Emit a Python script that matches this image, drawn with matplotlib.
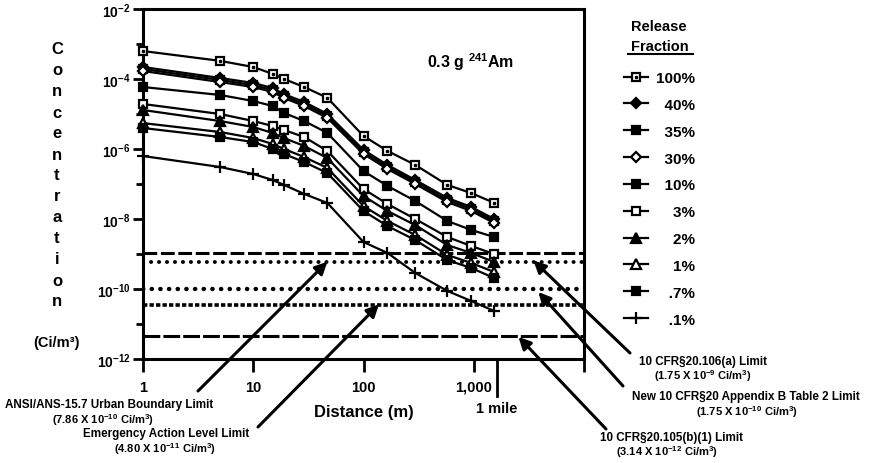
import matplotlib
matplotlib.use('Agg')
import matplotlib.pyplot as plt
from matplotlib.lines import Line2D
from matplotlib.ticker import NullLocator, FixedLocator, NullFormatter

plt.rcParams['font.family'] = ['Liberation Sans', 'DejaVu Sans']
plt.rcParams['font.weight'] = 'bold'
plt.rcParams['mathtext.fontset'] = 'custom'
plt.rcParams['mathtext.rm'] = 'Liberation Sans:bold'
plt.rcParams['mathtext.it'] = 'Liberation Sans:bold'
plt.rcParams['mathtext.bf'] = 'Liberation Sans:bold'
plt.rcParams['mathtext.default'] = 'rm'

# ---------------- data ----------------
distance_m = [1, 5, 10, 15, 19, 29, 47, 100, 165, 295, 575, 950, 1530]
release_labels = ['100%', '40%', '35%', '30%', '10%', '3%', '2%', '1%', '.7%', '.1%']
conc_100 = [6.3e-4, 3.3e-4, 2.2e-4, 1.4e-4, 1.0e-4, 5.9e-5, 2.9e-5, 2.35e-6, 8.8e-7, 3.5e-7, 9.4e-8, 5.5e-8, 2.9e-8]
conc_40 = [2.2e-4, 1.07e-4, 7.7e-5, 5.5e-5, 3.7e-5, 2.2e-5, 1.0e-5, 9.4e-7, 3.5e-7, 1.3e-7, 4.0e-8, 2.2e-8, 1.0e-8]
conc_35 = [1.93e-4, 9.4e-5, 6.7e-5, 4.85e-5, 3.27e-5, 1.93e-5, 8.8e-6, 8.2e-7, 3.06e-7, 1.14e-7, 3.5e-8, 1.93e-8, 8.8e-9]
conc_30 = [1.69e-4, 8.2e-5, 5.9e-5, 4.25e-5, 2.87e-5, 1.69e-5, 7.7e-6, 7.2e-7, 2.68e-7, 1.0e-7, 3.06e-8, 1.69e-8, 7.7e-9]
conc_10 = [5.9e-5, 3.5e-5, 2.35e-5, 1.69e-5, 1.07e-5, 6.3e-6, 2.87e-6, 2.35e-7, 8.8e-8, 3.27e-8, 8.8e-9, 4.85e-9, 3.06e-9]
conc_3 = [1.93e-5, 1.0e-5, 6.3e-6, 4.54e-6, 3.49e-6, 2.2e-6, 8.8e-7, 7.2e-8, 2.68e-8, 1.0e-8, 3.06e-9, 1.69e-9, 1.0e-9]
conc_2 = [1.3e-5, 6.3e-6, 4.25e-6, 2.87e-6, 2.06e-6, 1.22e-6, 5.5e-7, 4.54e-8, 1.69e-8, 6.7e-9, 1.8e-9, 1.07e-9, 5.9e-10]
conc_1 = [5.5e-6, 3.06e-6, 2.06e-6, 1.39e-6, 1.0e-6, 5.9e-7, 2.87e-7, 2.35e-8, 8.8e-9, 3.49e-9, 9.4e-10, 5.53e-10, 3.06e-10]
conc_07 = [3.98e-6, 2.2e-6, 1.58e-6, 1.0e-6, 7.2e-7, 4.25e-7, 2.06e-7, 1.69e-8, 6.3e-9, 2.5e-9, 6.7e-10, 3.98e-10, 2.06e-10]
conc_01 = [6.3e-7, 3.06e-7, 1.93e-7, 1.3e-7, 9.4e-8, 5.2e-8, 2.87e-8, 2.2e-9, 1.07e-9, 2.87e-10, 8.8e-11, 4.54e-11, 2.35e-11]

limit_values = [1.07e-9, 5.9e-10, 1.0e-10, 3.5e-11, 4.5e-12]

x_ticks = [1, 10, 100, 1000, 10000]
x_tick_labels = ['1', '10', '100', '1,000', '']
y_major = [1e-12, 1e-10, 1e-8, 1e-6, 1e-4, 1e-2]
y_major_labels = [r'$10^{-12}$', r'$10^{-10}$', r'$10^{-8}$', r'$10^{-6}$', r'$10^{-4}$', r'$10^{-2}$']
y_minor = [1e-11, 1e-9, 1e-7, 1e-5, 1e-3]
mile_m = 1609

# ---------------- figure ----------------
W, H = 875, 464
fig = plt.figure(figsize=(W / 100, H / 100), dpi=100)
ax = fig.add_axes([143 / W, 1 - 360 / H, (584 - 143) / W, 350 / H])
ax.set_xscale('log')
ax.set_yscale('log')
ax.set_xlim(1, 1e4)
ax.set_ylim(1e-12, 1e-2)

def fy(y):
    return 1 - y / H

series = [conc_100, conc_40, conc_35, conc_30, conc_10, conc_3, conc_2, conc_1, conc_07, conc_01]
styles = [
    dict(marker='s', mfc='white', ms=6.2),
    dict(marker='D', mfc='black', ms=5),
    dict(marker='s', mfc='black', ms=5.5),
    dict(marker='D', mfc='white', ms=5),
    dict(marker='s', mfc='black', ms=6.2),
    dict(marker='s', mfc='white', ms=6.2),
    dict(marker='^', mfc='black', ms=6.5),
    dict(marker='^', mfc='white', ms=6.5),
    dict(marker='s', mfc='black', ms=6.2),
    dict(marker='+', mfc='black', ms=8),
]

handles = []
for vals, st in zip(series, styles):
    ln, = ax.plot(distance_m, vals, color='black', lw=1.6, marker=st['marker'],
                  mfc=st['mfc'], mec='black', ms=st['ms'], mew=1.6, clip_on=False, zorder=4)
    handles.append(ln)
# dot inside the 100% squares
dot, = ax.plot(distance_m, conc_100, ls='none', marker='s', ms=1.8, color='black', clip_on=False, zorder=5)
handles[0] = (handles[0], dot)

# limit lines
limit_styles = [
    dict(ls=(0, (4.5, 1.2)), lw=2.2, cap='butt'),
    dict(ls=(0, (0.05, 2.0)), lw=2.8, cap='round'),
    dict(ls=(0, (0.05, 1.9)), lw=3.2, cap='round'),
    dict(ls=(0, (1.2, 0.6)), lw=2.6, cap='butt'),
    dict(ls=(0, (5.5, 1.0)), lw=2.2, cap='butt'),
]
for v, st in zip(limit_values, limit_styles):
    ax.axhline(v, color='black', ls=st['ls'], lw=st['lw'], dash_capstyle=st['cap'], zorder=3)

# ticks / spines
ax.set_xticks(x_ticks)
ax.set_xticklabels(x_tick_labels)
ax.xaxis.set_minor_locator(NullLocator())
ax.set_yticks(y_major)
ax.set_yticklabels(y_major_labels)
ax.yaxis.set_minor_locator(FixedLocator(y_minor))
ax.yaxis.set_minor_formatter(NullFormatter())
ax.tick_params(axis='x', which='major', direction='out', length=9, width=2, pad=6, labelsize=10.5)
ax.tick_params(axis='y', which='major', direction='out', length=7, width=2, pad=2, labelsize=10)
ax.tick_params(axis='y', which='minor', direction='out', length=5, width=2)
for sp in ax.spines.values():
    sp.set_linewidth(2.2)

# 1 mile marker
trans = ax.get_xaxis_transform()
ax.plot([mile_m, mile_m], [0, -(397 - 360) / 350], color='black', lw=2, transform=trans, clip_on=False)
ax.text(mile_m, -(409 - 360) / 350, '1 mile', transform=trans, ha='center', va='center', fontsize=10.5)

# axis labels
fig.text(364 / W, fy(412), 'Distance (m)', ha='center', va='center', fontsize=12)
for i, ch in enumerate('Concentration'):
    fig.text(57 / W, fy(50 + 21.0 * i), ch, ha='center', va='center', fontsize=12)
fig.text(57 / W, fy(343), '(Ci/m³)', ha='center', va='center', fontsize=10.5)

ax.text(937, 3.3e-4, r'0.3 g $^{241}$Am', ha='center', va='center', fontsize=11.5,
        transform=ax.transData)

# legend
fig.text(659 / W, fy(27), 'Release', ha='center', va='center', fontsize=10.5)
fig.text(660 / W, fy(47), 'Fraction', ha='center', va='center', fontsize=10.5)
fig.add_artist(Line2D([628 / W, 693 / W], [fy(55), fy(55)], color='black', lw=1.5))

def pad_label(s):
    if s.startswith('.'):
        return '\u2007\u2008' + s
    return '\u2007' * (4 - len(s)) + s

leg = ax.legend(handles, [pad_label(s) for s in release_labels], loc='upper left',
                bbox_to_anchor=(624 / W, fy(72)), bbox_transform=fig.transFigure,
                frameon=False, fontsize=11, handlelength=1.6, handletextpad=0.5,
                labelspacing=0.84, borderpad=0, borderaxespad=0)

# annotations
arrow = dict(arrowstyle='-|>', lw=2.2, color='black', mutation_scale=18, shrinkA=0, shrinkB=0)
big = 8.4
small = 8.0
annots = [
    # (tip data x, tip data y, tail px x, tail px y)
    (47, 6.0e-10, 198, 392),
    (138, 3.6e-11, 258, 428),
    (3475, 6.5e-10, 630, 354),
    (3855, 8.2e-11, 623, 387),
    (2545, 4.3e-12, 606, 430),
]
for tx, ty, px, py in annots:
    ax.annotate('', xy=(tx, ty), xycoords='data', xytext=(px, H - py), textcoords='figure pixels',
                arrowprops=arrow, annotation_clip=False)

fig.text(109 / W, fy(405), 'ANSI/ANS-15.7 Urban Boundary Limit', ha='center', va='center', fontsize=big)
fig.text(103 / W, fy(420), r'(7.86 X 10$^{-10}$ Ci/m$^{3}$)', ha='center', va='center', fontsize=small)
fig.text(166 / W, fy(434), 'Emergency Action Level Limit', ha='center', va='center', fontsize=big)
fig.text(165 / W, fy(449), r'(4.80 X 10$^{-11}$ Ci/m$^{3}$)', ha='center', va='center', fontsize=small)
fig.text(703 / W, fy(362), '10 CFR§20.106(a) Limit', ha='center', va='center', fontsize=big)
fig.text(703 / W, fy(376), r'(1.75 X 10$^{-9}$ Ci/m$^{3}$)', ha='center', va='center', fontsize=small)
fig.text(746 / W, fy(397), 'New 10 CFR§20 Appendix B Table 2 Limit', ha='center', va='center', fontsize=big)
fig.text(747 / W, fy(412), r'(1.75 X 10$^{-10}$ Ci/m$^{3}$)', ha='center', va='center', fontsize=small)
fig.text(672 / W, fy(438), '10 CFR§20.105(b)(1) Limit', ha='center', va='center', fontsize=big)
fig.text(667 / W, fy(452), r'(3.14 X 10$^{-12}$ Ci/m$^{3}$)', ha='center', va='center', fontsize=small)

fig.savefig('out.png', dpi=100)
